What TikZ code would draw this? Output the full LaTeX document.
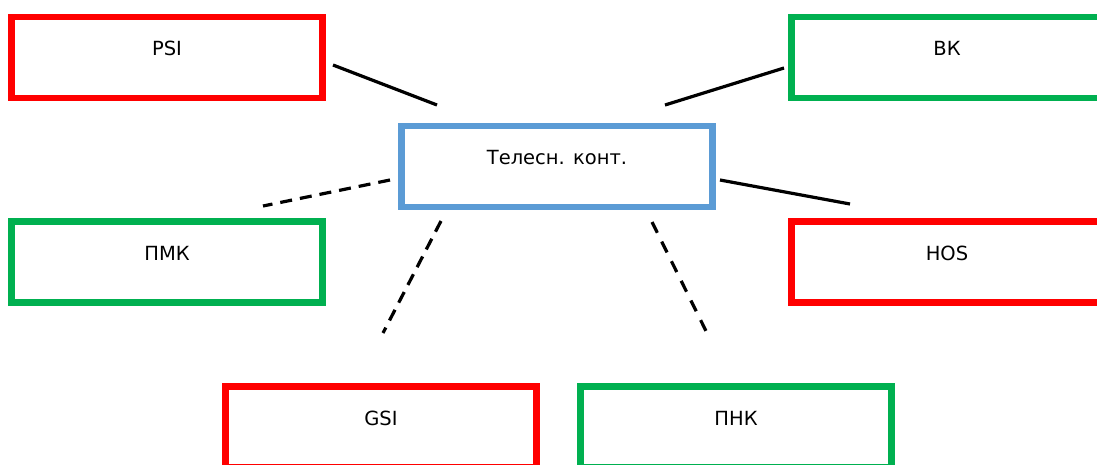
\documentclass[tikz,border=0pt]{standalone}
\usepackage{fontspec}
\setmainfont{DejaVu Sans}
\definecolor{boxred}{HTML}{FF0000}
\definecolor{boxgreen}{HTML}{00B050}
\definecolor{boxblue}{HTML}{5B9BD5}
\begin{document}
\begin{tikzpicture}[x=1pt,y=-1pt,
  card/.style={draw, line width=6.5pt, rectangle, minimum width=311pt,
    minimum height=81pt, inner sep=0pt, text height=12pt, text depth=15.5pt,
    font=\fontsize{19.5}{22}\selectfont},
  redcard/.style={card, draw=boxred},
  greencard/.style={card, draw=boxgreen},
  bluecard/.style={card, draw=boxblue},
  link/.style={draw=black, line width=3.2pt},
  weaklink/.style={link, dash pattern=on 12pt off 8pt}]
  \useasboundingbox (0,0) rectangle (1097,464);
  \clip (0,0) rectangle (1097,464);

  % boxes
  \node[bluecard]  (body) at (557,166.5) {Телесн. конт.};
  \node[redcard]   (psi)  at (167,57.5)  {PSI};
  \node[greencard] (vk)   at (947,57.5)  {ВК};
  \node[greencard] (pmk)  at (167,262)   {ПМК};
  \node[redcard]   (hos)  at (947,262)   {HOS};
  \node[redcard]   (gsi)  at (381,427)   {GSI};
  \node[greencard] (pnk)  at (736,427)   {ПНК};

  % connector ends, left free of the boxes
  \coordinate (psiA) at (333,65);  \coordinate (psiB) at (437,105);
  \coordinate (vkA)  at (784,68);  \coordinate (vkB)  at (665,105);
  \coordinate (pmkA) at (390,180); \coordinate (pmkB) at (263,206);
  \coordinate (hosA) at (720,180); \coordinate (hosB) at (850,204);
  \coordinate (gsiA) at (441,221); \coordinate (gsiB) at (383,333);
  \coordinate (pnkA) at (652,222); \coordinate (pnkB) at (706,331);

  % connectors
  \draw[link] (psiA) -- (psiB);
  \draw[link] (vkA) -- (vkB);
  \draw[link] (hosA) -- (hosB);
  \draw[weaklink] (pmkA) -- (pmkB);
  \draw[weaklink] (gsiA) -- (gsiB);
  \draw[weaklink, dash pattern=on 12pt off 9.9pt] (pnkA) -- (pnkB);
\end{tikzpicture}
\end{document}
